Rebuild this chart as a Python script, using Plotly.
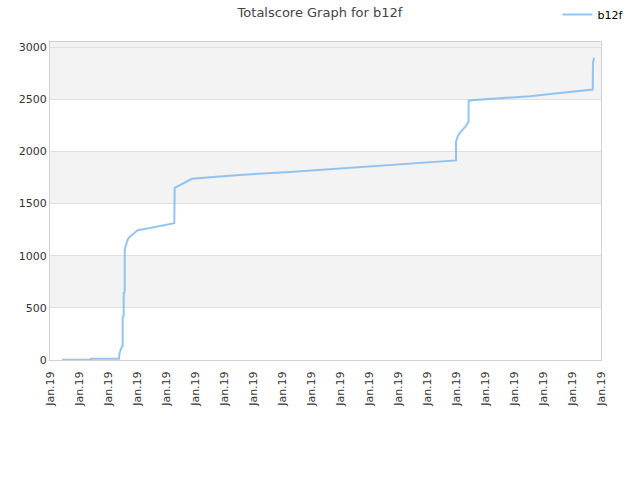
import plotly.graph_objects as go

# x positions in units of the x-axis tick spacing (each tick labelled "Jan.19")
x_pos = [0.414, 1.414, 1.414, 2.379, 2.397, 2.431, 2.483, 2.507, 2.507, 2.541, 2.541, 2.576, 2.576,
         2.603, 2.638, 2.690, 2.759, 2.862, 3.024, 3.448, 3.862, 4.286, 4.300, 4.483, 4.690, 4.897,
         5.517, 6.552, 8.276, 9.655, 11.034, 12.414, 13.448, 14.000, 14.000, 14.034, 14.069, 14.138,
         14.241, 14.345, 14.431, 14.438, 14.655, 15.517, 16.552, 17.586, 18.714, 18.724, 18.759]
scores = [2, 2, 12, 12, 65, 95, 133, 133, 410, 420, 640, 650, 1050,
          1090, 1130, 1160, 1185, 1210, 1245, 1265, 1288, 1311, 1651, 1680, 1710, 1738,
          1752, 1775, 1803, 1830, 1855, 1880, 1900, 1914, 2095, 2120, 2150, 2180,
          2210, 2245, 2285, 2486, 2492, 2508, 2530, 2560, 2593, 2848, 2898]

tick_vals = list(range(20))
tick_text = ["Jan.19"] * 20
y_ticks = [0, 500, 1000, 1500, 2000, 2500, 3000]
bands = [(500, 1000), (1500, 2000), (2500, 3048)]

fig = go.Figure()
fig.add_trace(go.Scatter(x=x_pos, y=scores, mode="lines", name="b12f",
                         line=dict(color="rgba(124,181,236,0.8)", width=2)))

for y0, y1 in bands:
    fig.add_shape(type="rect", xref="paper", yref="y", x0=0, x1=1, y0=y0, y1=y1,
                  fillcolor="#f3f3f3", line_width=0, layer="below")

fig.update_layout(
    width=640, height=480,
    margin=dict(l=50, r=39, t=40, b=120),
    paper_bgcolor="white", plot_bgcolor="white",
    font=dict(family="DejaVu Sans", size=11, color="#333333"),
    title=dict(text="Totalscore Graph for b12f", x=0.5, xanchor="center",
               y=0.975, yanchor="middle", yref="container",
               font=dict(size=13, color="#444444")),
    showlegend=True,
    legend=dict(x=0.982, xref="container", xanchor="right", y=1.0, yref="container", yanchor="top",
                orientation="h", itemwidth=30, font=dict(size=11, color="#000000"),
                bgcolor="rgba(0,0,0,0)"),
    xaxis=dict(range=[0, 19], tickmode="array", tickvals=tick_vals, ticktext=tick_text,
               tickangle=-90, showgrid=False, zeroline=False, showline=True,
               linecolor="#d0d0d0", linewidth=1, mirror=True, ticks="",
               ticklabelstandoff=6,
               tickfont=dict(size=11, color="#333333")),
    yaxis=dict(range=[0, 3048], tickmode="array", tickvals=y_ticks, showgrid=True,
               gridcolor="#e0e0e0", gridwidth=1, zeroline=False, showline=True,
               linecolor="#d0d0d0", linewidth=1, mirror=True, ticks="",
               tickfont=dict(size=11, color="#333333")),
)

fig.write_html("out.html")
